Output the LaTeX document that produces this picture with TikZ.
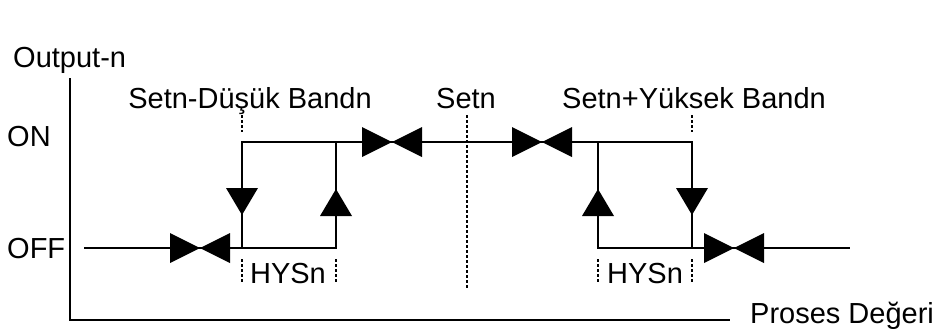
\documentclass[tikz,border=0pt]{standalone}
\usepackage{fontspec}
\setmainfont{Liberation Sans}
\usepackage{tikz}
\usetikzlibrary{positioning}

\tikzset{
    lbl/.style={inner sep=0pt, font=\fontsize{29}{32}\selectfont},
    wire/.style={line width=1.8pt},
    tickline/.style={line width=1.4pt, dash pattern=on 3pt off 2pt},
    valve/.pic={
        \fill (0,0) -- (-30,-15) -- (-30,15) -- cycle;
        \fill (0,0) -- (30,-15) -- (30,15) -- cycle;
    },
    tridown/.pic={\fill (0,0) -- (-16,-27) -- (16,-27) -- cycle;},
    triup/.pic={\fill (0,0) -- (-16,27) -- (16,27) -- cycle;}
}

\begin{document}
\begin{tikzpicture}[x=1pt, y=-1pt]
    \useasboundingbox (0,0) rectangle (938,330);

    % axes
    \coordinate (ytop) at (70,78);
    \coordinate (org) at (70,320);
    \coordinate (xend) at (730,320);
    \draw[wire] (ytop) -- (org) -- (xend);

    \node[lbl, anchor=base west] (outn) at (13,67) {Output-n};
    \node[lbl, anchor=base west] (proses) at (750,323) {Proses Değeri};
    \node[lbl, anchor=base west] (on) at (7,146) {ON};
    \node[lbl, anchor=base west] (off) at (7,258) {OFF};

    % corners of the two hysteresis loops
    \coordinate (L1) at (242,142);
    \coordinate (L2) at (336,142);
    \coordinate (L3) at (242,248);
    \coordinate (L4) at (336,248);
    \coordinate (R1) at (598,142);
    \coordinate (R2) at (692,142);
    \coordinate (R3) at (598,248);
    \coordinate (R4) at (692,248);
    \coordinate (offL) at (84,248);
    \coordinate (offR) at (850,248);

    \draw[wire] (offL) -- (L4) -- (L2);
    \draw[wire] (L3) -- (L1) -- (R2) -- (R4) -- (offR);
    \draw[wire] (R1) -- (R3) -- (R4);

    \pic at (200,248) {valve};
    \pic at (392,142) {valve};
    \pic at (542,142) {valve};
    \pic at (734,248) {valve};

    \pic at (242,215) {tridown};
    \pic at (336,189) {triup};
    \pic at (598,189) {triup};
    \pic at (692,215) {tridown};

    % set points
    \node[lbl, anchor=base] (lowband) at (250,108) {Setn-Düşük Bandn};
    \node[lbl, anchor=base] (setn) at (466,108) {Setn};
    \node[lbl, anchor=base] (highband) at (694,108) {Setn+Yüksek Bandn};
    \coordinate (s1) at (467,115);
    \coordinate (s2) at (467,288);
    \draw[tickline] (s1) -- (s2);
    \draw[tickline] (242,115) -- (242,132);
    \draw[tickline] (692,115) -- (692,132);

    % hysteresis marks
    \node[lbl, anchor=base] (hysL) at (288,283) {HYSn};
    \node[lbl, anchor=base] (hysR) at (645,283) {HYSn};
    \foreach \x in {242,336,598,692}
        \draw[tickline] (\x,259) -- (\x,283);
\end{tikzpicture}
\end{document}
